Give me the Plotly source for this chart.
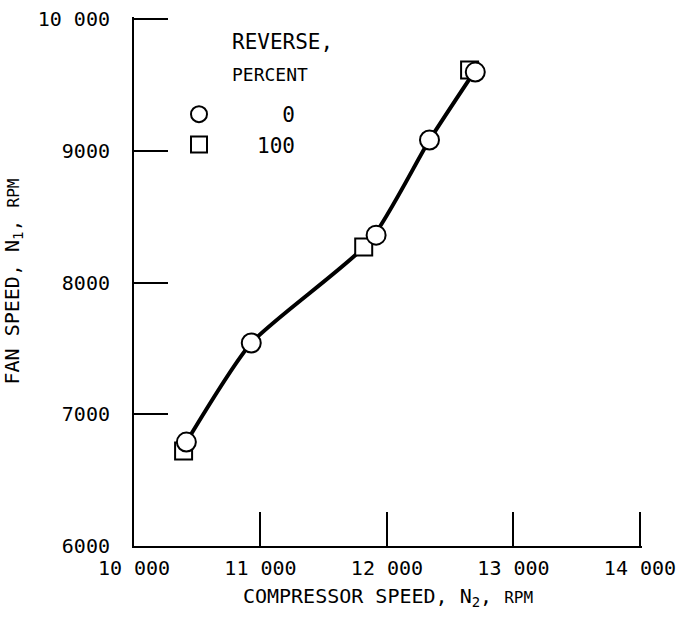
import plotly.graph_objects as go

# Fan speed N1 against compressor speed N2 for two reverser settings
n2_rev0 = [10414, 10927, 11914, 12336, 12698]
n1_rev0 = [6789, 7541, 8360, 9082, 9598]
n2_rev100 = [10392, 11816, 12653]
n1_rev100 = [6721, 8269, 9613]

# faired curve drawn through the data
curve_n2 = [10414, 10927, 11865, 12336, 12690]
curve_n1 = [6789, 7541, 8315, 9082, 9600]

legend_names = ["\u00a0\u00a00", "100"]

x_tickvals = [10000, 11000, 12000, 13000, 14000]
x_ticktext = ["10 000", "11 000", "12 000", "13 000", "14 000"]
y_tickvals = [6000, 7000, 8000, 9000, 10000]
y_ticktext = ["6000", "7000", "8000", "9000", "10 000"]

FONT = "DejaVu Sans Mono"
PLOT_L, PLOT_R, PLOT_T, PLOT_B = 134, 642, 17, 546
PW, PH = PLOT_R - PLOT_L, PLOT_B - PLOT_T

fig = go.Figure()

fig.add_trace(go.Scatter(
    x=curve_n2, y=curve_n1, mode="lines",
    line=dict(color="black", width=4, shape="spline", smoothing=0.6),
    showlegend=False, hoverinfo="skip",
))
fig.add_trace(go.Scatter(
    x=n2_rev100, y=n1_rev100, mode="markers", name=legend_names[1],
    marker=dict(symbol="square", size=17, color="white",
                line=dict(color="black", width=2)),
    legendrank=2,
))
fig.add_trace(go.Scatter(
    x=n2_rev0, y=n1_rev0, mode="markers", name=legend_names[0],
    marker=dict(symbol="circle", size=19, color="white",
                line=dict(color="black", width=2)),
    legendrank=1,
))

axis_common = dict(
    showgrid=False, zeroline=False, showline=True, linecolor="black",
    linewidth=2, ticks="inside", ticklen=34, tickwidth=2, tickcolor="black",
    tickfont=dict(family=FONT, size=20, color="black"),
    ticklabeloverflow="allow", automargin=False,
)

# ranges run a hair past the last tick so the end ticks are still drawn
fig.update_xaxes(
    range=[10000, 14016], tickmode="array", tickvals=x_tickvals,
    ticktext=x_ticktext, ticklabelstandoff=3,
    title=dict(
        text="COMPRESSOR SPEED, N<sub>2</sub>, <span style='font-size:16px'>RPM</span>",
        font=dict(family=FONT, size=20, color="black"), standoff=10),
    **axis_common,
)
fig.update_yaxes(
    range=[6000, 10016], tickmode="array", tickvals=y_tickvals,
    ticktext=y_ticktext, ticklabelstandoff=18,
    title=dict(
        text="FAN SPEED, N<sub>1</sub>, <span style='font-size:16px'>RPM</span>",
        font=dict(family=FONT, size=20, color="black"), standoff=14),
    **axis_common,
)

fig.add_annotation(
    xref="paper", yref="paper", x=(230 - PLOT_L) / PW, y=(PLOT_B - 42) / PH,
    xanchor="left", yanchor="middle", showarrow=False,
    text="REVERSE,", font=dict(family=FONT, size=21, color="black"),
)
fig.add_annotation(
    xref="paper", yref="paper", x=(230 - PLOT_L) / PW, y=(PLOT_B - 74) / PH,
    xanchor="left", yanchor="middle", showarrow=False,
    text="PERCENT", font=dict(family=FONT, size=18, color="black"),
)

fig.update_layout(
    width=680, height=620,
    margin=dict(l=PLOT_L, r=680 - PLOT_R, t=PLOT_T, b=620 - PLOT_B,
                autoexpand=False),
    plot_bgcolor="white", paper_bgcolor="white",
    font=dict(family=FONT, size=20, color="black"),
    legend=dict(
        x=(141 - PLOT_L) / PW, y=(PLOT_B - 94) / PH, xanchor="left", yanchor="top",
        bgcolor="rgba(0,0,0,0)", borderwidth=0,
        font=dict(family=FONT, size=21, color="black"),
        itemwidth=106, tracegroupgap=0,
    ),
)

fig.write_html("out.html")
